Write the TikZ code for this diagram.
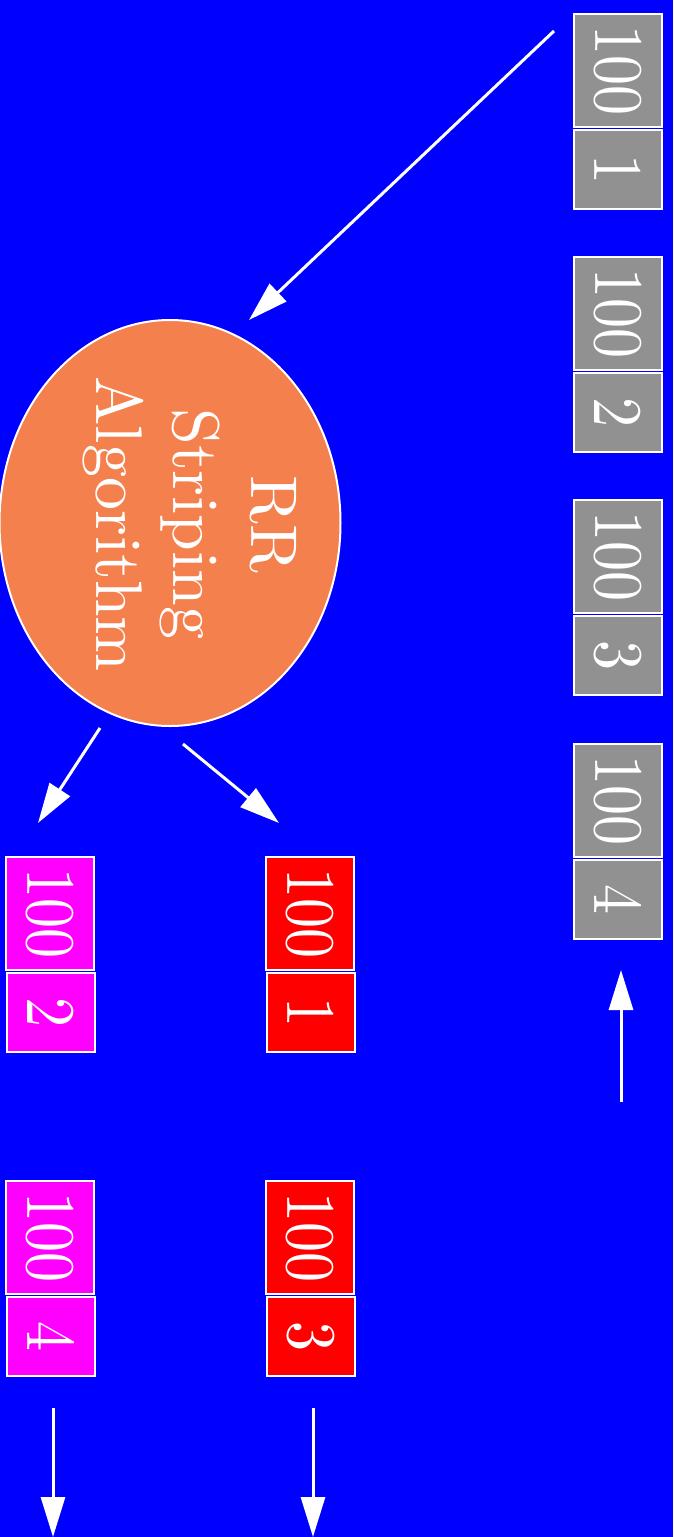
\documentclass[tikz,border=0pt]{standalone}
\usepackage{graphicx}
\usepackage{fontspec}
% the text-size cut of Latin Modern, for its heavier strokes when set large
\setmainfont{lmroman10-regular}[Extension=.otf]
\usetikzlibrary{arrows.meta,shapes.geometric}

\definecolor{bgblue}{RGB}{0,0,255}
\definecolor{cellgray}{RGB}{145,145,145}
\definecolor{cellred}{RGB}{255,0,0}
\definecolor{cellmagenta}{RGB}{255,0,255}
\definecolor{algoorange}{RGB}{244,128,77}

% digits in the cells are set a little taller than wide
\newcommand\celltext[1]{\scalebox{1}[1.16]{#1}}

\tikzset{
  cell/.style={draw=white, line width=2pt, rotate=-90, inner sep=0pt,
    minimum height=88pt, text=white, font=\fontsize{60}{60}\selectfont},
  sizecell/.style={cell, minimum width=113pt},
  idcell/.style={cell, minimum width=79pt},
  flow/.style={draw=white, line width=3pt,
    -{Triangle[length=40pt,width=24pt]}},
}

\begin{document}
\begin{tikzpicture}[x=1pt,y=-1pt]
  \fill[bgblue] (0,0) rectangle (673,1537);
  \useasboundingbox (0,0) rectangle (673,1537);

  % incoming stream of requests
  \foreach \n/\y in {1/14, 2/257, 3/500, 4/744} {
    \node[sizecell, fill=cellgray] (gs\n) at (618,\y+56.5) {\celltext{100}};
    \node[idcell, fill=cellgray] (gi\n) at (618,\y+155.5) {\celltext{\n}};
  }

  % striping algorithm
  \node[ellipse, draw=white, line width=2pt, fill=algoorange, inner sep=0pt,
        minimum width=341pt, minimum height=406pt] (algo) at (170,523) {};
  \node[rotate=-90, align=center, text=white, inner sep=0pt,
        font=\fontsize{66}{77.5}\selectfont] (algotext) at (189.5,524)
        {RR\\Striping\\Algorithm};

  % output disk: odd requests
  \node[sizecell, fill=cellred] (rs1) at (309.5,913.5) {\celltext{100}};
  \node[idcell, fill=cellred] (ri1) at (311,1012.5) {\celltext{1}};
  \node[sizecell, fill=cellred] (rs3) at (309.5,1237.5) {\celltext{100}};
  \node[idcell, fill=cellred] (ri3) at (311,1336.5) {\celltext{3}};

  % output disk: even requests
  \node[sizecell, fill=cellmagenta] (ms2) at (50,913.5) {\celltext{100}};
  \node[idcell, fill=cellmagenta] (mi2) at (51,1012.5) {\celltext{2}};
  \node[sizecell, fill=cellmagenta] (ms4) at (50,1237.5) {\celltext{100}};
  \node[idcell, fill=cellmagenta] (mi4) at (51,1336.5) {\celltext{4}};

  % connector end points
  \coordinate (inStart) at (554,31);
  \coordinate (inEnd) at (249,320);
  \coordinate (evenStart) at (100,728);
  \coordinate (evenEnd) at (38,823);
  \coordinate (oddStart) at (183,744);
  \coordinate (oddEnd) at (279,823);
  \coordinate (queueStart) at (621,1102);
  \coordinate (queueEnd) at (621,970);
  \coordinate (evenOutStart) at (53,1408);
  \coordinate (evenOutEnd) at (53,1537);
  \coordinate (oddOutStart) at (313,1408);
  \coordinate (oddOutEnd) at (313,1537);

  \draw[flow] (inStart) -- (inEnd);
  \draw[flow] (evenStart) -- (evenEnd);
  \draw[flow] (oddStart) -- (oddEnd);
  \draw[flow] (queueStart) -- (queueEnd);
  \draw[flow] (evenOutStart) -- (evenOutEnd);
  \draw[flow] (oddOutStart) -- (oddOutEnd);
\end{tikzpicture}
\end{document}
